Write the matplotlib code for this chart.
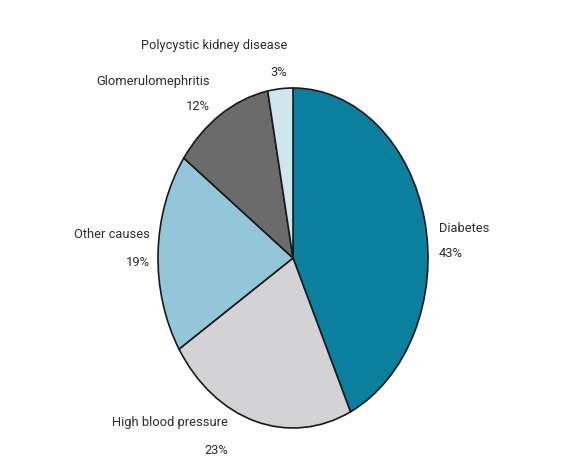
import matplotlib
matplotlib.use("Agg")
import matplotlib.pyplot as plt

categories = ["Diabetes", "High blood pressure", "Other causes", "Glomerulomephritis", "Polycystic kidney disease"]
values = [43, 23, 19, 12, 3]
pct_labels = ["43%", "23%", "19%", "12%", "3%"]
colors = ["#0b7f9e", "#d3d3d5", "#93c6d8", "#6b6b6b", "#d0e6ef"]

W, H = 579, 469
fig = plt.figure(figsize=(W / 100, H / 100), dpi=100)
fig.patch.set_facecolor("white")

# ellipse bounds in pixels: left 158, right 428, top 88, bottom 428
ax = fig.add_axes([158 / W, (H - 428) / H, 270 / W, 340 / H])
ax.pie(values, colors=colors, startangle=90, counterclock=False,
       wedgeprops=dict(edgecolor="#1a1a1a", linewidth=1.2))
ax.set_aspect("auto")
ax.set_xlim(-1.0, 1.0)
ax.set_ylim(-1.0, 1.0)
ax.axis("off")

fam = ["Roboto", "DejaVu Sans"]
fs = 9.3
tc = "#2b2b2b"

label_pos = {
    "Diabetes": (439, 228, "left"),
    "High blood pressure": (228, 422, "right"),
    "Other causes": (150, 234, "right"),
    "Glomerulomephritis": (210, 82, "right"),
    "Polycystic kidney disease": (287, 45, "right"),
}
pct_dy = {"Diabetes": 25, "High blood pressure": 28, "Other causes": 28,
          "Glomerulomephritis": 25, "Polycystic kidney disease": 27}

for cat, pct in zip(categories, pct_labels):
    x, y, ha = label_pos[cat]
    fig.text(x / W, 1 - y / H, cat, ha=ha, va="center", fontsize=fs,
             family=fam, color=tc)
    fig.text(x / W, 1 - (y + pct_dy[cat]) / H, pct, ha=ha, va="center",
             fontsize=fs, family=fam, color=tc)

fig.savefig("out.png", dpi=100)
